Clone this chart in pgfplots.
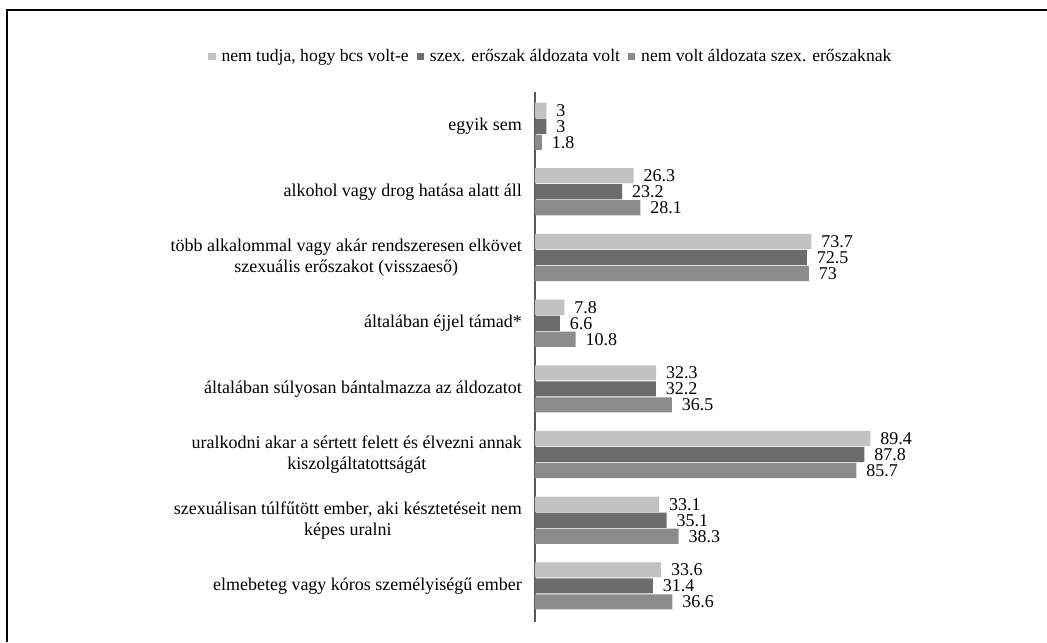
\documentclass[border=0pt]{standalone}
\usepackage{fontspec}
\setmainfont{Liberation Serif}
\usepackage{pgfplots}
\pgfplotsset{compat=1.18}

\definecolor{lightB}{HTML}{C2C2C2}
\definecolor{darkB}{HTML}{6C6C6C}
\definecolor{midB}{HTML}{8C8C8C}

\begin{document}
\begin{tikzpicture}
\begin{axis}[
    at={(267.5pt,10pt)}, anchor=south west,
    scale only axis,
    width=187.5pt, height=265pt,
    xbar, y dir=reverse,
    xmin=0, xmax=100,
    ymin=-0.52, ymax=7.55,
    axis x line=none,
    axis y line*=left,
    y axis line style={-, line width=1pt, draw=black!65},
    ytick={0,...,7},
    major tick length=0pt,
    yticklabels={
        {egyik sem},
        {alkohol vagy drog hatása alatt áll},
        {több alkalommal vagy akár rendszeresen elkövet\\szexuális erőszakot (visszaeső)},
        {általában éjjel támad*},
        {általában súlyosan bántalmazza az áldozatot},
        {uralkodni akar a sértett felett és élvezni annak\\kiszolgáltatottságát},
        {szexuálisan túlfűtött ember, aki késztetéseit nem\\képes uralni},
        {elmebeteg vagy kóros személyiségű ember}},
    yticklabel style={align=center, font=\fontsize{9}{10.5}\selectfont, xshift=-3pt},
    bar width=7.6pt,
    nodes near coords,
    nodes near coords style={font=\fontsize{9}{10}\selectfont, anchor=west, xshift=1.5pt},
    /pgf/number format/assume math mode=true,
    legend style={at={(0.045,1.066)}, anchor=center, legend columns=-1, draw=none,
        font=\fontsize{8.8}{10}\selectfont, inner sep=1pt,
        /tikz/every odd column/.append style={column sep=1pt},
        /tikz/every even column/.append style={column sep=2pt}},
    legend image code/.code={\fill[#1] (0pt,-1.6pt) rectangle (3.6pt,2.2pt);},
]
\addplot[draw=none, fill=lightB, bar shift=8pt] coordinates {
    (3,0) (26.3,1) (73.7,2) (7.8,3) (32.3,4) (89.4,5) (33.1,6) (33.6,7)};
\addlegendentry{nem tudja, hogy bcs volt-e}
\addplot[draw=none, fill=darkB, bar shift=0pt] coordinates {
    (3,0) (23.2,1) (72.5,2) (6.6,3) (32.2,4) (87.8,5) (35.1,6) (31.4,7)};
\addlegendentry{szex. erőszak áldozata volt}
\addplot[draw=none, fill=midB, bar shift=-8pt] coordinates {
    (1.8,0) (28.1,1) (73,2) (10.8,3) (36.5,4) (85.7,5) (38.3,6) (36.6,7)};
\addlegendentry{nem volt áldozata szex. erőszaknak}
\end{axis}
\draw[line width=1.2pt] (3.5pt,0pt) -- (3.5pt,316pt) -- (523.5pt,316pt);
\pgfresetboundingbox
\path[use as bounding box] (0pt,0pt) rectangle (523.5pt,321pt);
\end{tikzpicture}
\end{document}
